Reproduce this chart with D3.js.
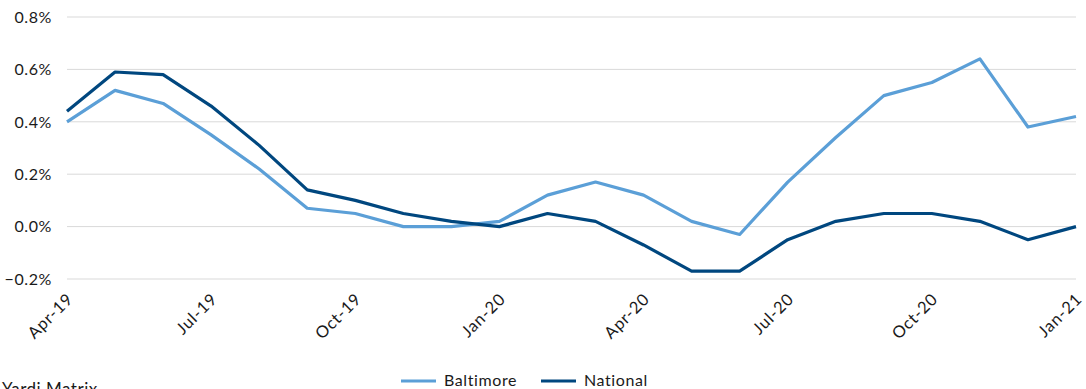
<!DOCTYPE html>
<html>
<head>
<meta charset="utf-8">
<script src="https://cdn.jsdelivr.net/npm/d3@7"></script>
<style>
  html, body { margin: 0; padding: 0; background: #fff; }
  svg { display: block; }
  text { font-family: Lato, "Open Sans", sans-serif; fill: #1a1a1a; }
</style>
</head>
<body>
<svg id="chart" width="1086" height="389"></svg>
<script>
// Monthly rent growth, Apr-19 through Jan-21 (percent)
const months = ["Apr-19","May-19","Jun-19","Jul-19","Aug-19","Sep-19","Oct-19","Nov-19","Dec-19",
                "Jan-20","Feb-20","Mar-20","Apr-20","May-20","Jun-20","Jul-20","Aug-20","Sep-20",
                "Oct-20","Nov-20","Dec-20","Jan-21"];
const baltimore = [0.40, 0.52, 0.47, 0.35, 0.22, 0.07, 0.05, 0.00, 0.00, 0.02, 0.12, 0.17,
                   0.12, 0.02, -0.03, 0.17, 0.34, 0.50, 0.55, 0.64, 0.38, 0.42];
const national  = [0.44, 0.59, 0.58, 0.46, 0.31, 0.14, 0.10, 0.05, 0.02, 0.00, 0.05, 0.02,
                   -0.07, -0.17, -0.17, -0.05, 0.02, 0.05, 0.05, 0.02, -0.05, 0.00];
const yTicks = [-0.2, 0.0, 0.2, 0.4, 0.6, 0.8];
const xTickLabels = ["Apr-19","Jul-19","Oct-19","Jan-20","Apr-20","Jul-20","Oct-20","Jan-21"];

const series = [
  { name: "Baltimore", values: baltimore, color: "#5b9fd7" },
  { name: "National",  values: national,  color: "#00477f" }
];

const svg = d3.select("#chart");
const plotLeft = 67, plotRight = 1076;

const x = d3.scalePoint().domain(months).range([plotLeft, plotRight]);
const y = d3.scaleLinear().domain([-0.2, 0.8]).range([279, 17]);

// Horizontal gridlines
svg.append("g")
  .selectAll("line")
  .data(yTicks)
  .join("line")
  .attr("x1", plotLeft)
  .attr("x2", plotRight)
  .attr("y1", d => y(d))
  .attr("y2", d => y(d))
  .attr("stroke", "#d9d9d9")
  .attr("stroke-width", 1);

// Y axis labels
svg.append("g")
  .selectAll("text")
  .data(yTicks)
  .join("text")
  .attr("x", 52)
  .attr("y", d => y(d))
  .attr("dy", "0.36em")
  .attr("text-anchor", "end")
  .style("font-size", "16px")
  .style("letter-spacing", "0.6px")
  .text(d => d3.format(".1f")(d) + "%");

// X axis labels, rotated
svg.append("g")
  .selectAll("text")
  .data(xTickLabels)
  .join("text")
  .attr("transform", d => `translate(${x(d) + 3},${296}) rotate(-45)`)
  .attr("dy", "0.35em")
  .attr("text-anchor", "end")
  .style("font-size", "16.5px")
  .style("letter-spacing", "0.8px")
  .text(d => d);

// Lines
const line = d3.line()
  .x((d, i) => x(months[i]))
  .y(d => y(d));

svg.append("g")
  .selectAll("path")
  .data(series)
  .join("path")
  .attr("d", d => line(d.values))
  .attr("fill", "none")
  .attr("stroke", d => d.color)
  .attr("stroke-width", 3.2)
  .attr("stroke-linejoin", "round");

// Legend
const legend = svg.append("g");
const legendPos = [401, 541];
series.forEach((s, i) => {
  const g = legend.append("g").attr("transform", `translate(${legendPos[i]},381)`);
  g.append("line").attr("x1", 0).attr("x2", 35).attr("y1", 0).attr("y2", 0)
    .attr("stroke", s.color).attr("stroke-width", 3.2);
  g.append("text").attr("x", 43).attr("y", 4.5)
    .style("font-size", "16px").style("letter-spacing", "0.6px")
    .text(s.name);
});

// Source note
svg.append("text")
  .attr("x", 2)
  .attr("y", 395)
  .style("font-size", "17px")
  .style("letter-spacing", "0.5px")
  .text("Yardi Matrix");
</script>
</body>
</html>
